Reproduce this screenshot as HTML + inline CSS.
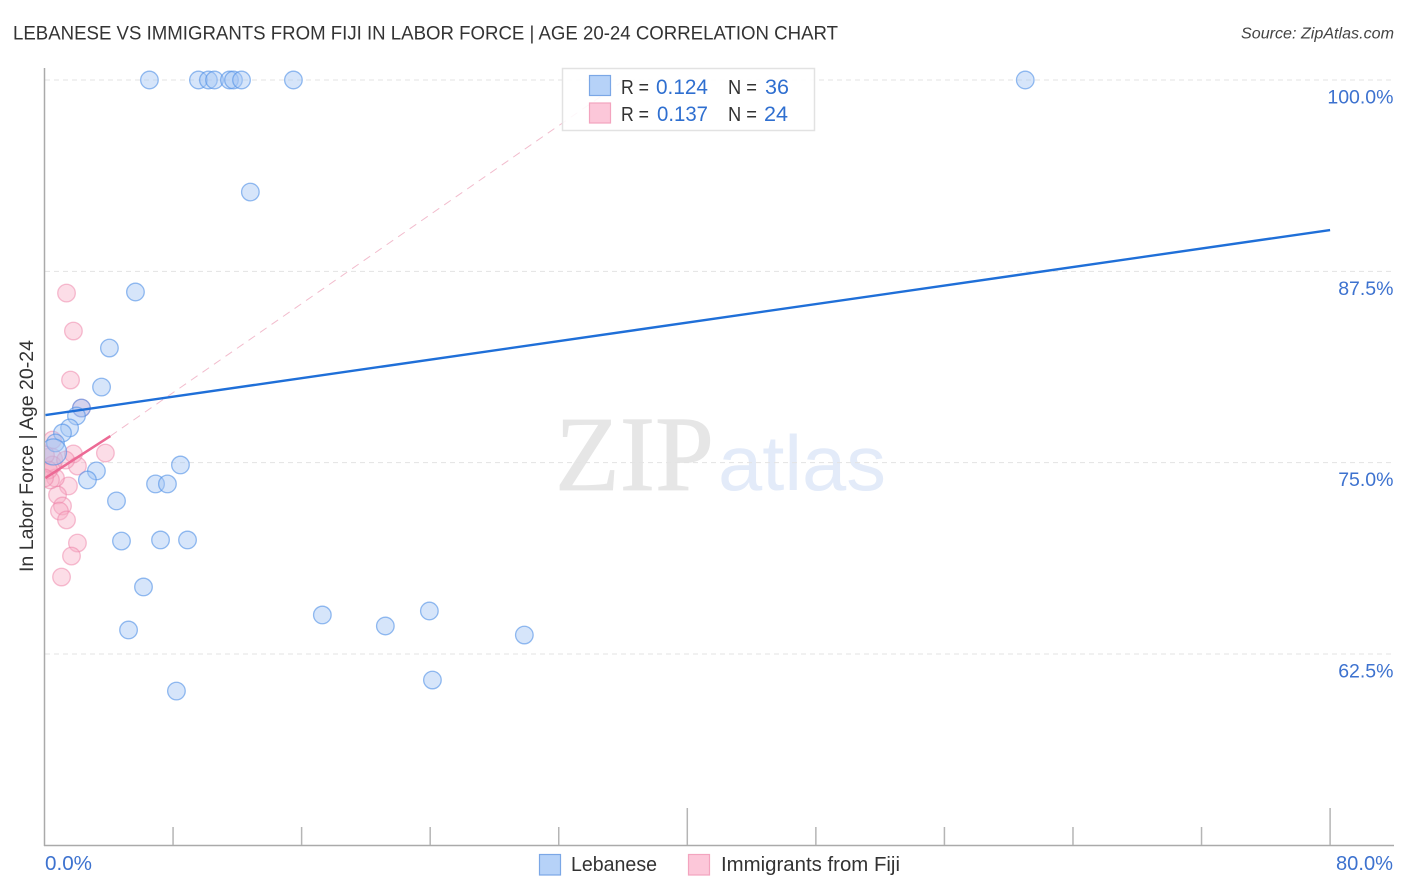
<!DOCTYPE html>
<html lang="en">
<head>
<meta charset="utf-8">
<title>Lebanese vs Immigrants from Fiji correlation chart</title>
<style>
html,body{margin:0;padding:0;background:#fff;width:1406px;height:892px;overflow:hidden}
svg{display:block}
text{font-family:"Liberation Sans",sans-serif}
</style>
</head>
<body>
<svg id="chart" xmlns="http://www.w3.org/2000/svg" width="1406" height="892" viewBox="0 0 1406 892">
  <defs><clipPath id="plot-clip"><rect x="45" y="60" width="1349" height="786"/></clipPath></defs>
  <text x="13" y="39.5" font-size="19.5" fill="#333" textLength="825" lengthAdjust="spacingAndGlyphs">LEBANESE VS IMMIGRANTS FROM FIJI IN LABOR FORCE | AGE 20-24 CORRELATION CHART</text>
  <text x="1394" y="38.5" font-size="15.5" font-style="italic" fill="#444" text-anchor="end" textLength="153" lengthAdjust="spacingAndGlyphs">Source: ZipAtlas.com</text>
  <text transform="translate(33,456) rotate(-90)" font-size="19" fill="#333" text-anchor="middle" textLength="232" lengthAdjust="spacingAndGlyphs">In Labor Force | Age 20-24</text>
  <g>
    <text x="555" y="490" style="font-family:'Liberation Serif',serif" font-size="107" fill="#e6e6e6" stroke="#e6e6e6" stroke-width="0.8" textLength="159" lengthAdjust="spacingAndGlyphs">ZIP</text>
    <text x="718" y="490" font-size="78" fill="#e3ebf9" textLength="168" lengthAdjust="spacingAndGlyphs">atlas</text>
  </g>
  <g id="grid"></g>
  <g id="axes"></g>
  <g id="fiji-points" clip-path="url(#plot-clip)"></g>
  <g id="lebanese-points" clip-path="url(#plot-clip)"></g>
  <g id="trends"></g>
  <g id="stats-legend">
    <rect x="562.5" y="68.5" width="252" height="62" fill="#fff" fill-opacity="0.88" stroke="#e2e2e2" stroke-width="1.5"/>
    <rect x="589.5" y="75.5" width="21" height="20" fill="#b6d2f8" stroke="#7ba7e6" stroke-width="1.2"/>
    <rect x="589.5" y="103" width="21" height="20" fill="#fcc7d9" stroke="#f3a4bf" stroke-width="1.2"/>
    <text x="621" y="94" font-size="20" fill="#333" textLength="28" lengthAdjust="spacingAndGlyphs">R =</text>
    <text x="656" y="94" font-size="21" fill="#2f6fd0" textLength="52" lengthAdjust="spacingAndGlyphs">0.124</text>
    <text x="728" y="94" font-size="20" fill="#333" textLength="29" lengthAdjust="spacingAndGlyphs">N =</text>
    <text x="765" y="94" font-size="21" fill="#2f6fd0" textLength="24" lengthAdjust="spacingAndGlyphs">36</text>
    <text x="621" y="121" font-size="20" fill="#333" textLength="28" lengthAdjust="spacingAndGlyphs">R =</text>
    <text x="657" y="121" font-size="21" fill="#2f6fd0" textLength="51" lengthAdjust="spacingAndGlyphs">0.137</text>
    <text x="728" y="121" font-size="20" fill="#333" textLength="29" lengthAdjust="spacingAndGlyphs">N =</text>
    <text x="764" y="121" font-size="21" fill="#2f6fd0" textLength="24" lengthAdjust="spacingAndGlyphs">24</text>
  </g>
  <g id="bottom-legend">
    <rect x="539.5" y="854.5" width="21" height="20.5" fill="#b6d2f8" stroke="#7ba7e6" stroke-width="1.2"/>
    <text x="571" y="871" font-size="20" fill="#333" textLength="86" lengthAdjust="spacingAndGlyphs">Lebanese</text>
    <rect x="688.5" y="854.5" width="21" height="20.5" fill="#fcc7d9" stroke="#f3a4bf" stroke-width="1.2"/>
    <text x="721" y="871" font-size="20" fill="#333" textLength="179" lengthAdjust="spacingAndGlyphs">Immigrants from Fiji</text>
  </g>
</svg>
<script>
const yTicks = [100, 87.5, 75, 62.5];
const yTickLabels = ["100.0%", "87.5%", "75.0%", "62.5%"];
const xTicks = [8, 16, 24, 32, 40, 48, 56, 64, 72, 80];
const xMajorTicks = [40, 80];
const xEndLabels = ["0.0%", "80.0%"];

const lebaneseX = [6.53, 9.58, 10.20, 10.58, 11.51, 11.76, 12.26, 15.49, 61.03, 12.81, 5.66, 4.04, 3.55, 2.30, 1.99, 1.56, 1.12, 0.68, 0.56, 3.23, 2.67, 6.91, 7.65, 8.46, 4.48, 4.79, 7.22, 8.90, 6.16, 5.23, 17.29, 21.21, 23.95, 29.86, 24.14, 8.21];
const lebaneseY = [100, 100, 100, 100, 100, 100, 100, 100, 100, 92.68, 86.15, 82.49, 79.94, 78.57, 78.05, 77.27, 76.94, 76.29, 75.7, 74.46, 73.87, 73.61, 73.61, 74.85, 72.50, 69.88, 69.95, 69.95, 66.88, 64.07, 65.05, 64.33, 65.31, 63.74, 60.80, 60.08];
const lebaneseWeight = [1, 1, 1, 1, 1, 1, 1, 1, 1, 1, 1, 1, 1, 1, 1, 1, 1, 1, 2.2, 1, 1, 1, 1, 1, 1, 1, 1, 1, 1, 1, 1, 1, 1, 1, 1, 1];

const fijiX = [1.37, 1.80, 1.62, 2.30, 0.50, 0.37, 1.80, 2.05, 3.79, 1.49, 0.81, 1.12, 0.93, 1.37, 2.05, 1.68, 1.06, 0.68, 0.37, 0.50, 0.06, 1.31, 0.25, 0];
const fijiY = [86.08, 83.60, 80.40, 78.57, 76.48, 75.17, 75.57, 74.78, 75.63, 73.48, 72.89, 72.17, 71.84, 71.26, 69.75, 68.90, 67.53, 74.0, 73.87, 74.85, 75.5, 75.17, 74.52, 74.0];
const fijiWeight = [1, 1, 1, 1, 1, 1.9, 1, 1, 1, 1, 1, 1, 1, 1, 1, 1, 1, 1, 1, 1, 1, 1, 1, 1];

const lebaneseTrendX = [0.06, 80];
const lebaneseTrendY = [78.11, 90.2];
const fijiTrendX = [0.06, 4.1];
const fijiTrendY = [74.0, 76.74];
const fijiTrendExtX = [4.1, 36.1];
const fijiTrendExtY = [76.74, 100];

const NS = "http://www.w3.org/2000/svg";
const xScale = v => 44.5 + v * 16.07;
const yScale = v => 80 + (100 - v) * 15.307;
const rScale = w => 8.8 * Math.sqrt(w);

function mk(parent, tag, attrs, txt) {
  const el = document.createElementNS(NS, tag);
  for (const k in attrs) el.setAttribute(k, attrs[k]);
  if (txt !== undefined) el.textContent = txt;
  parent.appendChild(el);
  return el;
}

const grid = document.getElementById("grid");
const axes = document.getElementById("axes");

yTicks.forEach((t, i) => {
  const line = mk(grid, "line", {x1: 45, x2: 1394, y1: yScale(t), y2: yScale(t), stroke: "#e3e3e3", "stroke-width": 1, "stroke-dasharray": "5 4"});
  
  
  const label = mk(axes, "text", {x: 1393.5, y: yScale(t) + 23.5, "font-size": 19.5, fill: "#3d72cf", "text-anchor": "end"}, yTickLabels[i]);
  
  
});

const yAxis = mk(axes, "line", {x1: 44.5, x2: 44.5, y1: 68, y2: 846, stroke: "#aaa", "stroke-width": 1.5});


const xAxis = mk(axes, "line", {x1: 44, x2: 1394, y1: 845.5, y2: 845.5, stroke: "#aaa", "stroke-width": 1.5});



xTicks.forEach(t => {
  const top = xMajorTicks.includes(t) ? 808 : 827;
  const tick = mk(axes, "line", {x1: xScale(t), x2: xScale(t), y1: top, y2: 845, stroke: "#b5b5b5", "stroke-width": 1.5});
  
  
});

const xLabelStart = mk(axes, "text", {x: 45, y: 870, "font-size": 20, fill: "#3d72cf", textLength: 47, lengthAdjust: "spacingAndGlyphs"}, xEndLabels[0]);


const xLabelEnd = mk(axes, "text", {x: 1336, y: 870, "font-size": 20, fill: "#3d72cf", textLength: 57, lengthAdjust: "spacingAndGlyphs"}, xEndLabels[1]);



const fijiGroup = document.getElementById("fiji-points");
fijiX.forEach((x, i) => {
  const c = mk(fijiGroup, "circle", {cx: xScale(x), cy: yScale(fijiY[i]), r: rScale(fijiWeight[i]), fill: "#f8a9c4", "fill-opacity": 0.4, stroke: "#ee7fa5", "stroke-opacity": 0.5, "stroke-width": 1.3});
  
  
});

const lebaneseGroup = document.getElementById("lebanese-points");
lebaneseX.forEach((x, i) => {
  const c = mk(lebaneseGroup, "circle", {cx: xScale(x), cy: yScale(lebaneseY[i]), r: rScale(lebaneseWeight[i]), fill: "#a3c6f4", "fill-opacity": 0.45, stroke: "#4f8fe6", "stroke-opacity": 0.6, "stroke-width": 1.3});
  
  
});

const trends = document.getElementById("trends");
const fijiExt = mk(trends, "line", {x1: xScale(fijiTrendExtX[0]), y1: yScale(fijiTrendExtY[0]), x2: xScale(fijiTrendExtX[1]), y2: yScale(fijiTrendExtY[1]), stroke: "#f2bccd", "stroke-width": 1, "stroke-dasharray": "8 6"});


const fijiLine = mk(trends, "line", {x1: xScale(fijiTrendX[0]), y1: yScale(fijiTrendY[0]), x2: xScale(fijiTrendX[1]), y2: yScale(fijiTrendY[1]), stroke: "#ec6a95", "stroke-width": 2.5});


const lebLine = mk(trends, "line", {x1: xScale(lebaneseTrendX[0]), y1: yScale(lebaneseTrendY[0]), x2: xScale(lebaneseTrendX[1]), y2: yScale(lebaneseTrendY[1]), stroke: "#1f6fd8", "stroke-width": 2.4});


</script>
</body>
</html>
